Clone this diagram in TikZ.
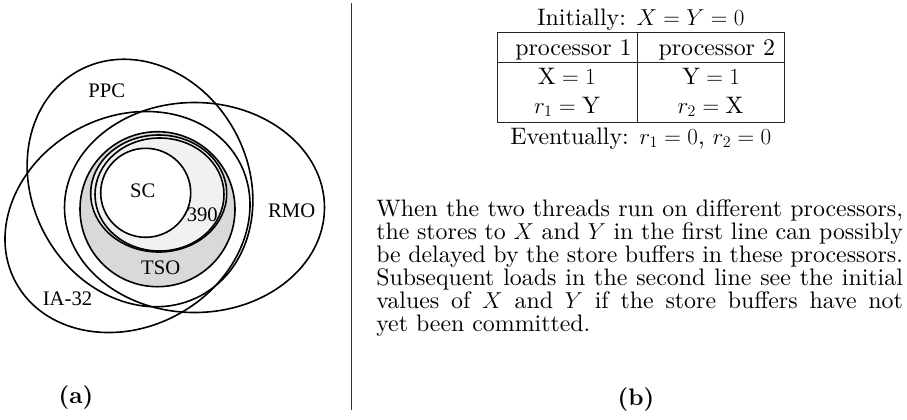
\documentclass[tikz,border=0pt]{standalone}
\usepackage{fontspec}
\setmainfont{lmroman10-regular.otf}[BoldFont=lmroman10-bold.otf, ItalicFont=lmroman10-italic.otf]
\newfontfamily\diagfont{Liberation Serif}
\definecolor{tsogray}{RGB}{217,217,217}
\definecolor{lightg}{RGB}{241,241,241}
\begin{document}
\begin{tikzpicture}[x=0.75pt,y=-0.75pt,
  setline/.style={line width=1.2pt},
  lbl/.style={font=\diagfont\fontsize{15.5}{18}\selectfont, inner sep=0},
  txt/.style={font=\fontsize{17.9}{17.25}\selectfont, inner sep=0, anchor=base},
  subcap/.style={font=\bfseries\fontsize{17.9}{17.25}\selectfont, inner sep=0},
  tline/.style={line width=0.6pt, draw=black!85},
]
\useasboundingbox (0,0) rectangle (907,419);

% ---- (a) Venn diagram ----
% outer sets
\draw[setline, rotate around={28.5:(140,183)}] (140,183) ellipse [x radius=108, y radius=128];
\draw[setline, rotate around={28.2:(127.5,222)}] (127.5,222) ellipse [x radius=127, y radius=105.3];
\draw[setline] (194.5,207.5) ellipse [x radius=130, y radius=105];
% nested sets
\filldraw[setline, fill=tsogray] (157.5,209.2) ellipse [x radius=77.5, y radius=77.5];
\filldraw[setline, fill=lightg] (158.7,193.5) ellipse [x radius=68, y radius=58.5];
\filldraw[setline, fill=lightg] (159.5,194.5) ellipse [x radius=64.5, y radius=56.5];
\filldraw[setline, fill=white] (145.7,192.8) ellipse [x radius=45, y radius=44.5];

\node[lbl] (ppc) at (106.7,91) {PPC};
\node[lbl] (rmo) at (291.7,210.8) {RMO};
\node[lbl] (sc) at (142.7,190.7) {SC};
\node[lbl] (s390) at (202.3,214.3) {390};
\node[lbl] (tso) at (160.7,267.7) {TSO};
\node[lbl] (ia) at (67.5,298.5) {IA-32};

\node[subcap] (capa) at (76,398) {(a)};

% divider
\draw[line width=0.7pt, black!80] (351.7,3) -- (351.7,410);

% ---- (b) table ----
\draw[tline] (497.7,32.7) rectangle (784.3,122.3);
\draw[tline] (497.7,62.7) -- (784.3,62.7);
\draw[tline] (637.7,32.7) -- (637.7,122.3);

\node[txt] (init) at (640.8,25) {Initially: $X = Y = 0$};
\node[txt, anchor=base west] (p1) at (515,55) {processor 1};
\node[txt, anchor=base west] (p2) at (658.3,55) {processor 2};
\node[txt] (x1) at (566.7,84) {X${}=1$};
\node[txt] (y1) at (711,84) {Y${}=1$};
\node[txt] (r1) at (567,113.3) {$r_1={}$Y};
\node[txt] (r2) at (710.5,113.3) {$r_2={}$X};
\node[txt] (ev) at (640.8,144) {Eventually: $r_1 = 0$, $r_2 = 0$};

\node[txt, anchor=base west, text width=395pt, align=justify] (para) at (376,216.7)
 {\hyphenpenalty=10000\relax When the two threads run on different processors,\linebreak
  the stores to $X$ and $Y$ in the first line can possibly\linebreak
  be delayed by the store buffers in these processors.\linebreak
  Subsequent loads in the second line see the initial\linebreak
  values of $X$ and $Y$ if the store buffers have not\linebreak
  yet been committed.};

\node[subcap] (capb) at (636,400) {(b)};
\end{tikzpicture}
\end{document}
